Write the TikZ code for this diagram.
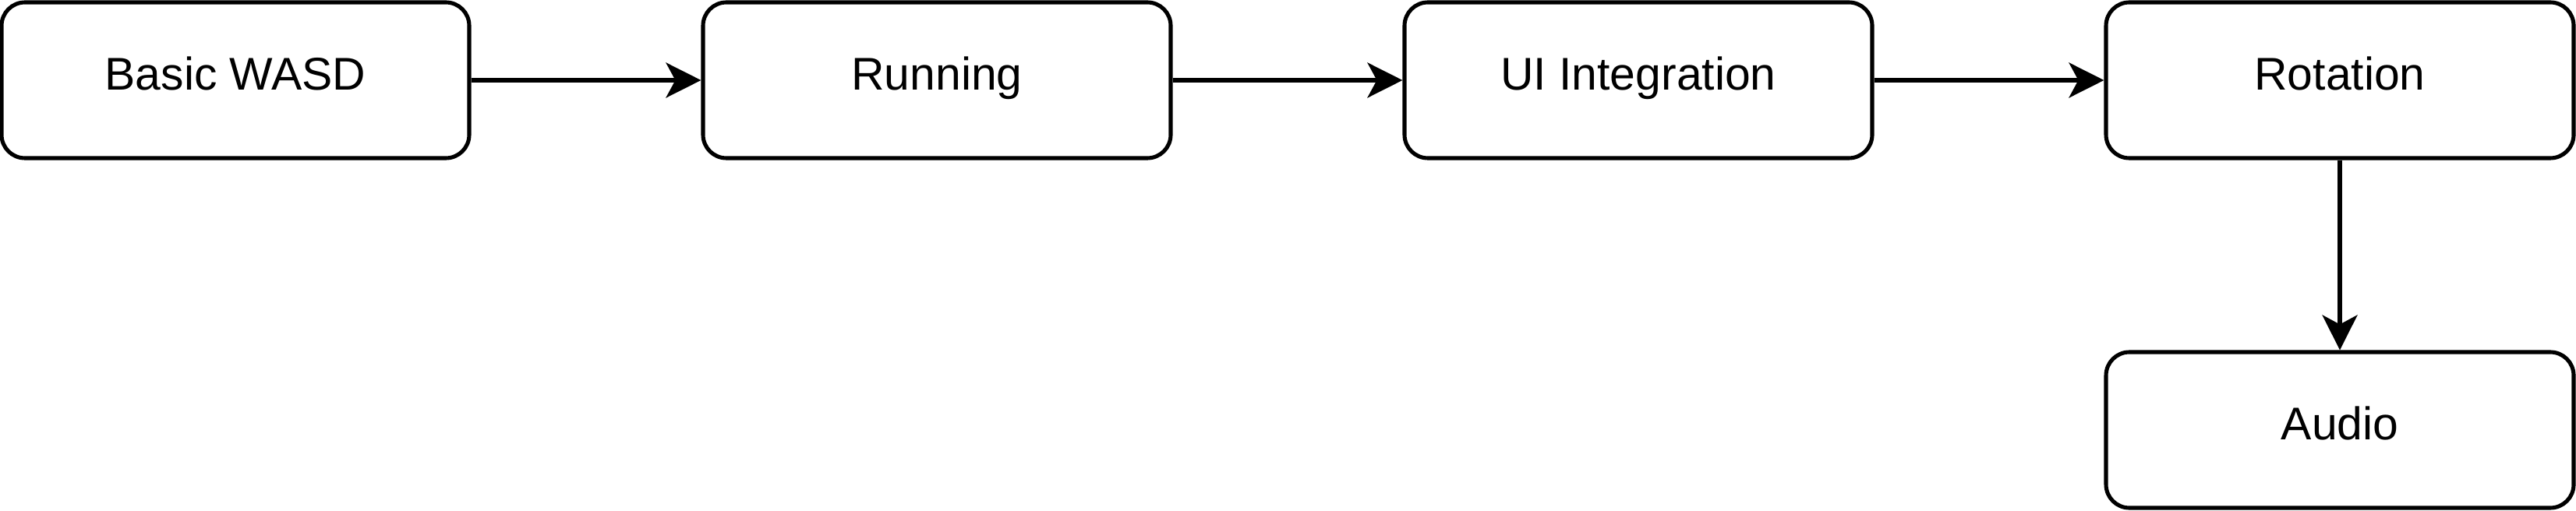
\documentclass[tikz,border=0pt]{standalone}
\usepackage{fontspec}
\setmainfont{Liberation Sans}
\usetikzlibrary{arrows.meta}
\begin{document}
\begin{tikzpicture}
\tikzset{
  stepbox/.style={draw=black, line width=1.45pt, rounded corners=0.3cm, fill=white,
    minimum width=6.0cm, minimum height=2.0cm, inner sep=0pt,
    text height=0.716em, text depth=0pt,
    font=\fontsize{16.75pt}{20pt}\selectfont},
  conn/.style={draw=black, line width=1.45pt,
    -{Stealth[length=0.45cm, width=0.45cm, inset=0.12cm]}}
}
\useasboundingbox (0,0) rectangle (33.05,6.55);
\node[stepbox] (b1) at (3.02,5.52) {Basic WASD};
\node[stepbox] (b2) at (12.02,5.52) {Running};
\node[stepbox] (b3) at (21.02,5.52) {UI Integration};
\node[stepbox] (b4) at (30.02,5.52) {Rotation};
\node[stepbox] (b5) at (30.02,1.03) {Audio};
\draw[conn] (b1) -- (b2);
\draw[conn] (b2) -- (b3);
\draw[conn] (b3) -- (b4);
\draw[conn] (b4) -- (b5);
\end{tikzpicture}
\end{document}
